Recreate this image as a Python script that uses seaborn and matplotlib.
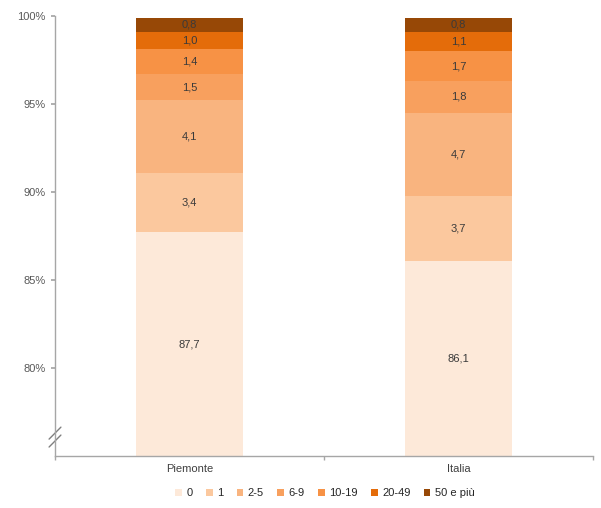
import numpy as np
import pandas as pd
import matplotlib
matplotlib.use("Agg")
import matplotlib.pyplot as plt
import seaborn as sns
from matplotlib.patches import Patch

regions = ["Piemonte", "Italia"]
classes = ["0", "1", "2-5", "6-9", "10-19", "20-49", "50 e più"]
piemonte = [87.7, 3.4, 4.1, 1.5, 1.4, 1.0, 0.8]
italia = [86.1, 3.7, 4.7, 1.8, 1.7, 1.1, 0.8]
colors = ["#fde9d9", "#fbc89e", "#f9b47f", "#f8a05e", "#f79245", "#e46c0a", "#974806"]
yticks = [80, 85, 90, 95, 100]
YMIN, YMAX = 75, 100

sns.set_theme(style="white")
plt.rcParams['font.family'] = ['Liberation Sans', 'DejaVu Sans']

rows = []
for reg, vals in zip(regions, [piemonte, italia]):
    cum = np.cumsum(vals)
    for c, v, cv in zip(classes, vals, cum):
        rows.append({"region": reg, "cls": c, "value": v, "cum": cv})
df = pd.DataFrame(rows)

fig = plt.figure(figsize=(6.01, 5.08), dpi=100)
ax = fig.add_axes([55/601, 1-456/508, (593-55)/601, (456-16)/508])

for c, col in reversed(list(zip(classes, colors))):
    sub = df[df["cls"] == c]
    sns.barplot(data=sub, x="region", y="cum", color=col, width=0.395,
                ax=ax, saturation=1, order=regions, linewidth=0)

for i, reg in enumerate(regions):
    sub = df[df["region"] == reg]
    for _, r in sub.iterrows():
        bottom = max(r["cum"] - r["value"], YMIN)
        mid = (bottom + r["cum"]) / 2
        ax.text(i, mid, f"{r['value']:.1f}".replace(".", ","), ha="center",
                va="center", fontsize=8, color="#3a3a3a")

ax.set_ylim(YMIN, YMAX)
ax.set_xlim(-0.5, 1.5)
ax.set_yticks(yticks)
ax.set_yticklabels([f"{t}%" for t in yticks], fontsize=8, color="#595959")
ax.set_xticks([0, 1])
ax.set_xticklabels(regions, fontsize=8, color="#404040")
ax.set_xlabel("")
ax.set_ylabel("")
for s in ["top", "right"]:
    ax.spines[s].set_visible(False)
for s in ["left", "bottom"]:
    ax.spines[s].set_color("#a6a6a6")
    ax.spines[s].set_linewidth(1.0)
ax.tick_params(axis="y", length=3, color="#a6a6a6", left=True, pad=4)
ax.tick_params(axis="x", length=0, pad=6)
ax.set_xticks([-0.5, 0.5, 1.5], minor=True)
ax.tick_params(axis="x", which="minor", length=3, color="#a6a6a6", bottom=True)

# axis break marks
for yb in [0.052, 0.034]:
    ax.plot([-0.011, 0.011], [yb - 0.0136, yb + 0.0136], transform=ax.transAxes,
            color="#7f7f7f", lw=1.0, clip_on=False)

handles = [Patch(facecolor=col, edgecolor="none", label=c) for c, col in zip(classes, colors)]
fig.legend(handles=handles, loc="center", bbox_to_anchor=(325/601, 1-493/508),
           ncol=7, frameon=False, fontsize=8, handlelength=0.6, handleheight=0.6,
           handletextpad=0.4, columnspacing=1.2)

fig.savefig("out.png", dpi=100)
